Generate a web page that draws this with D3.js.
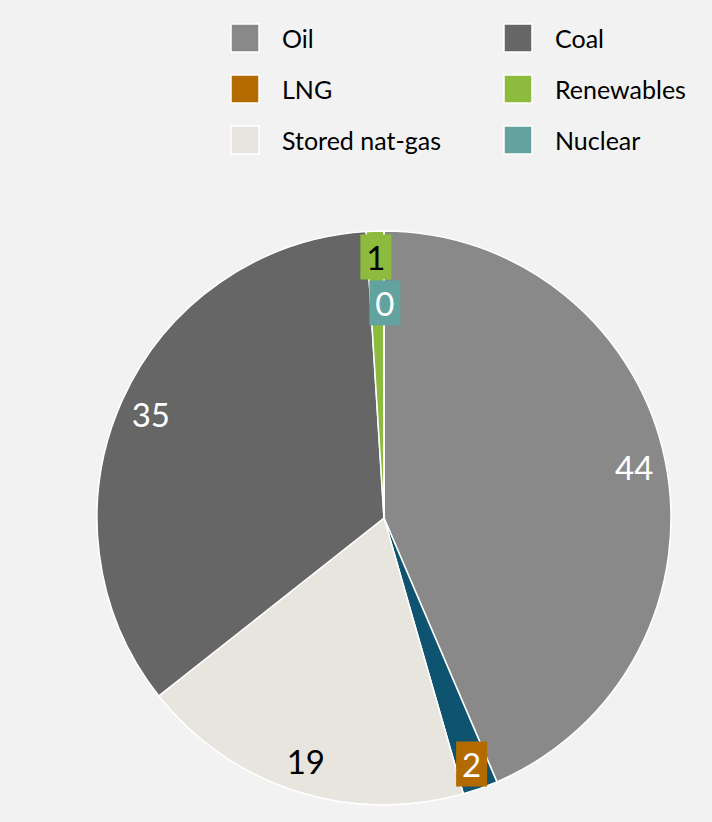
<!DOCTYPE html>
<html>
<head>
<meta charset="utf-8">
<script src="https://cdn.jsdelivr.net/npm/d3@7"></script>
<style>
  html, body { margin: 0; padding: 0; background: #f2f2f2; }
  svg { display: block; }
  text { font-family: Lato, "Open Sans", sans-serif; }
</style>
</head>
<body>
<svg id="chart" width="712" height="822"></svg>
<script>
// Energy mix shares, in the order the pie runs clockwise from 12 o'clock
const categories = ["Oil", "LNG", "Stored nat-gas", "Coal", "Renewables", "Nuclear"];
const shares = [44, 2, 19, 35, 1, 0];

// Legend colours per category
const legendColors = ["#898989", "#b36b00", "#e8e4de", "#666666", "#8cbb3e", "#62a29f"];
// Slice fill colours (LNG wedge is drawn in a dark blue)
const sliceColors = ["#898989", "#0e5470", "#e8e4de", "#666666", "#8cbb3e", "#62a29f"];
// Label styles: boxed labels for the thin slices
const labelBoxed = [false, true, false, false, true, true];
const labelInk = ["#ffffff", "#ffffff", "#000000", "#ffffff", "#000000", "#ffffff"];
// Legend layout: two columns
const legendColumns = [["Oil", "LNG", "Stored nat-gas"], ["Coal", "Renewables", "Nuclear"]];

const svg = d3.select("#chart");
const cx = 384, cy = 518, r = 287;

const data = categories.map((c, i) => ({ name: c, value: shares[i], i }));

const pie = d3.pie().sort(null).value(d => d.value);
const arcs = pie(data);
const arc = d3.arc().innerRadius(0).outerRadius(r);
const labelArc = d3.arc().innerRadius(r * 0.89).outerRadius(r * 0.89);
const boxArc = d3.arc().innerRadius(r * 0.91).outerRadius(r * 0.91);

const g = svg.append("g").attr("transform", `translate(${cx},${cy})`);

g.selectAll("path.slice")
  .data(arcs)
  .join("path")
  .attr("class", "slice")
  .attr("d", arc)
  .attr("fill", d => sliceColors[d.data.i])
  .attr("stroke", "#ffffff")
  .attr("stroke-width", 1.5)
  .attr("stroke-linejoin", "round");

// Data labels
const fontSize = 33;
const boxW = 31, boxH = 45;
const placed = [];
arcs.forEach(d => {
  const i = d.data.i;
  let [x, y] = labelBoxed[i] ? boxArc.centroid(d) : labelArc.centroid(d);
  if (labelBoxed[i]) {
    // push overlapping boxed labels downward
    placed.forEach(p => {
      if (Math.abs(p.x - x) < boxW && Math.abs(p.y - y) < boxH) {
        y = p.y + boxH + 1;
        x = p.x + 9;
      }
    });
    placed.push({ x, y });
    g.append("rect")
      .attr("x", x - boxW / 2)
      .attr("y", y - boxH / 2)
      .attr("width", boxW)
      .attr("height", boxH)
      .attr("fill", legendColors[i]);
  }
  g.append("text")
    .attr("x", x)
    .attr("y", y)
    .attr("text-anchor", "middle")
    .attr("dominant-baseline", "central")
    .attr("font-size", fontSize)
    .attr("fill", labelInk[i])
    .text(d.data.value);
});

// Legend
const legend = svg.append("g");
const colX = [231, 504];
const rowY = [38, 89, 140];
legendColumns.forEach((col, ci) => {
  col.forEach((name, ri) => {
    const idx = categories.indexOf(name);
    legend.append("rect")
      .attr("x", colX[ci])
      .attr("y", rowY[ri] - 14)
      .attr("width", 28)
      .attr("height", 28)
      .attr("fill", legendColors[idx])
      .attr("stroke", "#ffffff")
      .attr("stroke-width", 1.5);
    legend.append("text")
      .attr("x", colX[ci] + 51)
      .attr("y", rowY[ri])
      .attr("dominant-baseline", "central")
      .attr("font-size", 25)
      .attr("fill", "#000000")
      .text(name);
  });
});
</script>
</body>
</html>
